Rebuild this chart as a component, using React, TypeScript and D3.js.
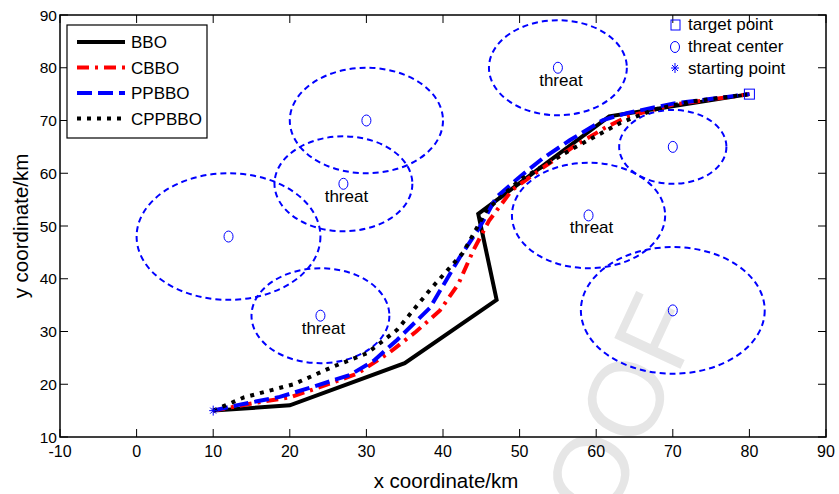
import React from 'react';
import * as d3 from 'd3';

// threat zones
const threatX = [12, 30, 27, 24, 55, 70, 59, 70];
const threatY = [48, 70, 58, 33, 80, 65, 52, 34];
const threatR = [12, 10, 9, 9, 9, 7, 10, 12];
const threatLabelled = [false, false, true, true, true, false, true, false];

const startPoint = [10, 15];
const targetPoint = [80, 75];

// planned paths
const bboX = [10, 20, 35, 47, 44.6, 61.7, 80];
const bboY = [15, 16, 24, 36, 52.3, 70.8, 75];
const cbboX = [10, 16, 20, 24, 28.8, 33, 36.5, 39.6, 42, 44, 46, 49, 53, 57, 61, 64, 70, 80];
const cbboY = [15, 16.6, 17.5, 19.5, 22, 26, 30, 34, 39, 45.5, 51, 56.8, 61, 65, 68.5, 70.7, 73, 75];
const ppbboX = [10, 13, 18.7, 23, 27.9, 31, 34, 38.3, 42.2, 44.8, 47, 50, 53, 56.6, 60.9, 64, 70, 80];
const ppbboY = [15, 16, 17.6, 19.5, 21.8, 24.5, 28.4, 34.5, 44.1, 49.8, 55.5, 59.3, 62.8, 66.3, 70.1, 71.4, 73.2, 75];
const cppbboX = [10, 14, 20.5, 25.6, 30.1, 34, 38.3, 42.6, 45.7, 50, 56.6, 63.1, 67.4, 72, 80];
const cppbboY = [15, 17.5, 20, 23.3, 25.9, 30.3, 37.9, 44.9, 53, 58.7, 64.4, 69.5, 72, 73.5, 75];

const xTicks = [-10, 0, 10, 20, 30, 40, 50, 60, 70, 80, 90];
const yTicks = [10, 20, 30, 40, 50, 60, 70, 80, 90];

const series = [
  { name: 'BBO', xs: bboX, ys: bboY, color: '#000000', dash: 'none' },
  { name: 'CBBO', xs: cbboX, ys: cbboY, color: '#ff0000', dash: '12,6,3,6' },
  { name: 'PPBBO', xs: ppbboX, ys: ppbboY, color: '#0000ff', dash: '15,6' },
  { name: 'CPPBBO', xs: cppbboX, ys: cppbboY, color: '#000000', dash: '4,6' },
];

const W = 839, H = 494;
const FONT = '"Liberation Sans", Arial, Helvetica, sans-serif';

export default function App() {
  const x = d3.scaleLinear().domain([-10, 90]).range([60, 826]);
  const y = d3.scaleLinear().domain([10, 90]).range([437, 15]);
  const [x0, x1] = x.range();
  const [y0, y1] = y.range();
  const line = d3.line<number>().curve(d3.curveLinear);

  const sx = x(startPoint[0]), sy = y(startPoint[1]);
  const tx = x(targetPoint[0]), ty = y(targetPoint[1]);

  return (
    <svg width={W} height={H} style={{ position: 'absolute', left: 0, top: 0, background: '#fff' }} fontFamily={FONT}>
      {/* faint watermark of the proof copy */}
      <text x={704} y={318} fontSize={106} fill="#e6e6e6" textAnchor="end"
        transform="rotate(-65 704 318)">PROOF</text>
      <defs>
        <clipPath id="plot"><rect x={x0} y={y1} width={x1 - x0} height={y0 - y1} /></clipPath>
      </defs>
      <g clipPath="url(#plot)">
        {threatX.map((cx, i) => (
          <ellipse key={'e' + i} cx={x(cx)} cy={y(threatY[i])}
            rx={x(cx + threatR[i]) - x(cx)} ry={y(threatY[i]) - y(threatY[i] + threatR[i])}
            fill="none" stroke="#0000ff" strokeWidth={2} strokeDasharray="6,4" />
        ))}
        {threatX.map((cx, i) => (
          <ellipse key={'m' + i} cx={x(cx)} cy={y(threatY[i])} rx={4.5} ry={5.5}
            fill="none" stroke="#0000ff" strokeWidth={1} />
        ))}
        {threatX.map((cx, i) => threatLabelled[i] ? (
          <text key={'t' + i} x={x(cx) + 3} y={y(threatY[i]) + 18} fontSize={17} textAnchor="middle" fill="#000">threat</text>
        ) : null)}
        {series.map((s) => (
          <path key={s.name} d={line(s.xs.map((v, i) => [x(v), y(s.ys[i])]) as any) || ''}
            fill="none" stroke={s.color} strokeWidth={4} strokeDasharray={s.dash}
            strokeLinejoin="miter" />
        ))}
        <rect x={tx - 5} y={ty - 5} width={10} height={10} fill="none" stroke="#0000ff" strokeWidth={1} />
        <g stroke="#0000ff" strokeWidth={1}>
          <line x1={sx - 4} x2={sx + 4} y1={sy} y2={sy} />
          <line x1={sx} x2={sx} y1={sy - 5} y2={sy + 5} />
          <line x1={sx - 3} x2={sx + 3} y1={sy - 3} y2={sy + 3} />
          <line x1={sx - 3} x2={sx + 3} y1={sy + 3} y2={sy - 3} />
        </g>
      </g>

      {/* axes box and ticks */}
      <rect x={x0} y={y1} width={x1 - x0} height={y0 - y1} fill="none" stroke="#000" strokeWidth={1.5} />
      <g stroke="#000" strokeWidth={1}>
        {xTicks.map((t) => (
          <g key={'xt' + t}>
            <line x1={x(t)} x2={x(t)} y1={y0} y2={y0 - 8} />
            <line x1={x(t)} x2={x(t)} y1={y1} y2={y1 + 8} />
          </g>
        ))}
        {yTicks.map((t) => (
          <g key={'yt' + t}>
            <line x1={x0} x2={x0 + 8} y1={y(t)} y2={y(t)} />
            <line x1={x1} x2={x1 - 8} y1={y(t)} y2={y(t)} />
          </g>
        ))}
      </g>
      {xTicks.map((t) => (
        <text key={'xl' + t} x={x(t)} y={y0 + 20} fontSize={16} textAnchor="middle">{t}</text>
      ))}
      {yTicks.map((t) => (
        <text key={'yl' + t} x={x0 - 3} y={y(t) + 5.5} fontSize={15.5} textAnchor="end">{t}</text>
      ))}
      <text x={(x0 + x1) / 2 + 3} y={488} fontSize={20.5} textAnchor="middle">x coordinate/km</text>
      <text transform={`translate(28,${(y0 + y1) / 2}) rotate(-90)`} fontSize={20.5} textAnchor="middle">y coordinate/km</text>

      {/* legend: algorithms */}
      <rect x={67} y={25} width={140} height={113} fill="#fff" stroke="#000" strokeWidth={1.2} />
      {series.map((s, i) => (
        <g key={'lg' + s.name}>
          <line x1={77} x2={125} y1={42 + i * 25.5} y2={42 + i * 25.5} stroke={s.color} strokeWidth={4} strokeDasharray={s.dash} />
          <text x={131} y={42 + i * 25.5 + 6} fontSize={17}>{s.name}</text>
        </g>
      ))}

      {/* legend: markers */}
      <rect x={671} y={20} width={9} height={10} fill="none" stroke="#0000ff" strokeWidth={1} />
      <ellipse cx={675} cy={47} rx={4.5} ry={5.5} fill="none" stroke="#0000ff" strokeWidth={1} />
      <g stroke="#0000ff" strokeWidth={1}>
        <line x1={671} x2={679} y1={68} y2={68} />
        <line x1={675} x2={675} y1={63} y2={73} />
        <line x1={672} x2={678} y1={65} y2={71} />
        <line x1={672} x2={678} y1={71} y2={65} />
      </g>
      <text x={688} y={30} fontSize={17}>target point</text>
      <text x={688} y={52} fontSize={17}>threat center</text>
      <text x={688} y={74} fontSize={17}>starting point</text>
    </svg>
  );
}
